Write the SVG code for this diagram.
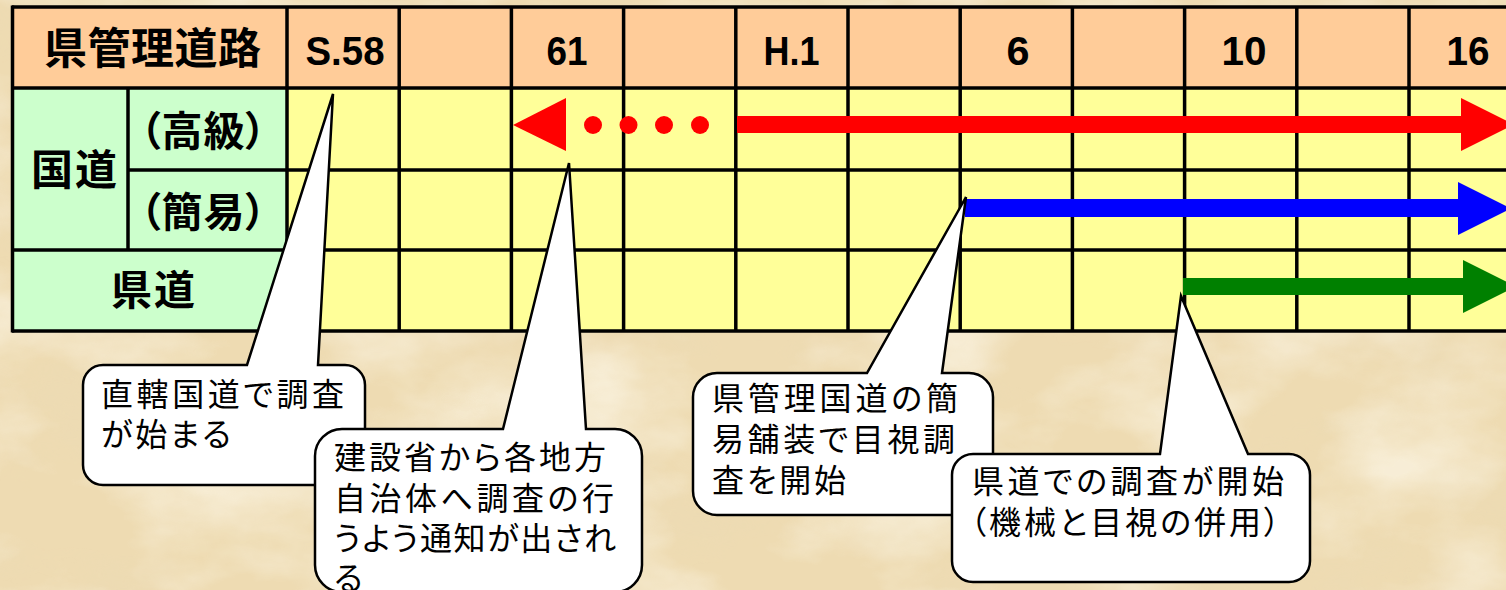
<svg xmlns="http://www.w3.org/2000/svg" width="1506" height="590" viewBox="0 0 1506 590">
<defs>
<filter id="paper" x="0" y="0" width="1506" height="590" filterUnits="userSpaceOnUse">
<feTurbulence type="fractalNoise" baseFrequency="0.006 0.011" numOctaves="5" seed="7" result="n"/>
<feColorMatrix in="n" type="matrix" values="0 0 0 0 0.82  0 0 0 0 0.71  0 0 0 0 0.48  1.6 0 0 0 -0.8" result="dark"/>
<feColorMatrix in="n" type="matrix" values="0 0 0 0 1  0 0 0 0 0.98  0 0 0 0 0.90  0 2.4 0 0 -1.0" result="light"/>
<feMerge><feMergeNode in="dark"/><feMergeNode in="light"/></feMerge>
</filter>
<style>
.hdr{fill:#FFCC99}
.lbl{fill:#CCFFCC}
.dat{fill:#FFFF99}
.grid line{stroke:#000;stroke-width:3.5}
.jp{font-family:"Noto Sans CJK JP","Noto Sans CJK SC",sans-serif;font-weight:700;fill:#000;font-feature-settings:"palt"}
.num{font-family:"Liberation Sans",Arial,sans-serif;font-weight:700;font-size:41px;fill:#000}
.co path{fill:#fff;stroke:#000;stroke-width:2.5;stroke-linejoin:miter}
.co text{font-family:"Noto Sans CJK JP","Noto Sans CJK SC",sans-serif;font-size:32px;fill:#000;font-feature-settings:"palt"}
</style>
</defs>
<g id="background">
<rect x="0" y="0" width="1506" height="590" fill="#EEDBB2"/>
<rect x="0" y="0" width="1506" height="590" filter="url(#paper)" opacity="0.55"/>
</g>
<g id="table">
<rect class="hdr" x="12" y="7" width="1510" height="81"/>
<rect class="lbl" x="12" y="88" width="275" height="243"/>
<rect class="dat" x="287" y="88" width="1235" height="243"/>
<g class="grid">
<line x1="12" y1="7" x2="1506" y2="7"/>
<line x1="12" y1="88" x2="1506" y2="88"/>
<line x1="128" y1="170" x2="1506" y2="170"/>
<line x1="12" y1="250" x2="1506" y2="250"/>
<line x1="12" y1="331" x2="1506" y2="331"/>
<line x1="12.5" y1="5.5" x2="12.5" y2="332.5"/>
<line x1="128" y1="88" x2="128" y2="250"/>
<line x1="287" y1="7" x2="287" y2="331"/>
<line x1="399.2" y1="7" x2="399.2" y2="331"/>
<line x1="511.4" y1="7" x2="511.4" y2="331"/>
<line x1="623.6" y1="7" x2="623.6" y2="331"/>
<line x1="735.8" y1="7" x2="735.8" y2="331"/>
<line x1="848" y1="7" x2="848" y2="331"/>
<line x1="960.2" y1="7" x2="960.2" y2="331"/>
<line x1="1072.4" y1="7" x2="1072.4" y2="331"/>
<line x1="1184.6" y1="7" x2="1184.6" y2="331"/>
<line x1="1296.8" y1="7" x2="1296.8" y2="331"/>
<line x1="1409" y1="7" x2="1409" y2="331"/>
</g>
</g>
<g id="header-labels">
<text class="jp" x="44" y="64" font-size="43" textLength="217">県管理道路</text>
<text class="num" x="305.5" y="65" textLength="79" lengthAdjust="spacingAndGlyphs">S.58</text>
<text class="num" x="546.5" y="65" textLength="41" lengthAdjust="spacingAndGlyphs">61</text>
<text class="num" x="763.5" y="65" textLength="56" lengthAdjust="spacingAndGlyphs">H.1</text>
<text class="num" x="1006.5" y="65" textLength="23" lengthAdjust="spacingAndGlyphs">6</text>
<text class="num" x="1221.5" y="65" textLength="45" lengthAdjust="spacingAndGlyphs">10</text>
<text class="num" x="1446.5" y="65" textLength="43" lengthAdjust="spacingAndGlyphs">16</text>
</g>
<g id="row-labels">
<text class="jp" x="31" y="185" font-size="42" textLength="86">国道</text>
<text class="jp" x="140" y="146" font-size="41" textLength="126">（高級）</text>
<text class="jp" x="140" y="227" font-size="41" textLength="126">（簡易）</text>
<text class="jp" x="111" y="305" font-size="41" textLength="84">県道</text>
</g>
<g id="connectors">
<g id="arrow-koukyu" fill="#FF0000">
<polygon points="513,125 566,98 566,151"/>
<circle cx="593" cy="125" r="9"/>
<circle cx="628.5" cy="125" r="9"/>
<circle cx="664" cy="125" r="9"/>
<circle cx="700" cy="125" r="9"/>
<rect x="737" y="116" width="726" height="17"/>
<polygon points="1461,98 1514,124.5 1461,151"/>
</g>
<g id="arrow-kan-i" fill="#0000FF">
<rect x="965" y="199" width="495" height="18"/>
<polygon points="1458,182 1511,208.5 1458,235"/>
</g>
<g id="arrow-kendo" fill="#008000">
<rect x="1183" y="278" width="282" height="17"/>
<polygon points="1463,260 1516,286.5 1463,313"/>
</g>
</g>
<g id="callout-s58" class="co">
<path d="M103,365 L247,365 L333,94 L318,365 L345,365 A20,20 0 0 1 365,385 L365,465 A20,20 0 0 1 345,485 L103,485 A20,20 0 0 1 83,465 L83,385 A20,20 0 0 1 103,365 Z"/>
<text x="101" y="406" textLength="243">直轄国道で調査</text>
<text x="101" y="446" textLength="130">が始まる</text>
</g>
<g id="callout-61" class="co">
<path d="M342,429 L503,429 L569,163 L586,429 L615,429 A27,27 0 0 1 642,456 L642,565 A27,27 0 0 1 615,592 L342,592 A27,27 0 0 1 315,565 L315,456 A27,27 0 0 1 342,429 Z"/>
<text x="334" y="469" textLength="272">建設省から各地方</text>
<text x="334" y="510" textLength="280">自治体へ調査の行</text>
<text x="334" y="550" textLength="282">うよう通知が出され</text>
<text x="334" y="590">る</text>
</g>
<g id="callout-h6" class="co">
<path d="M717,373 L867,373 L966,197 L942,373 L969,373 A24,24 0 0 1 993,397 L993,491 A24,24 0 0 1 969,515 L717,515 A24,24 0 0 1 693,491 L693,397 A24,24 0 0 1 717,373 Z"/>
<text x="712" y="410" textLength="246">県管理国道の簡</text>
<text x="712" y="451" textLength="243">易舗装で目視調</text>
<text x="712" y="492" textLength="134">査を開始</text>
</g>
<g id="callout-h10" class="co">
<path d="M973,454 L1160,454 L1181,296 L1248,454 L1289,454 A21,21 0 0 1 1310,475 L1310,561 A21,21 0 0 1 1289,582 L973,582 A21,21 0 0 1 952,561 L952,475 A21,21 0 0 1 973,454 Z"/>
<text x="972" y="493" textLength="312">県道での調査が開始</text>
<text x="970" y="534" textLength="310">（機械と目視の併用）</text>
</g>
</svg>
